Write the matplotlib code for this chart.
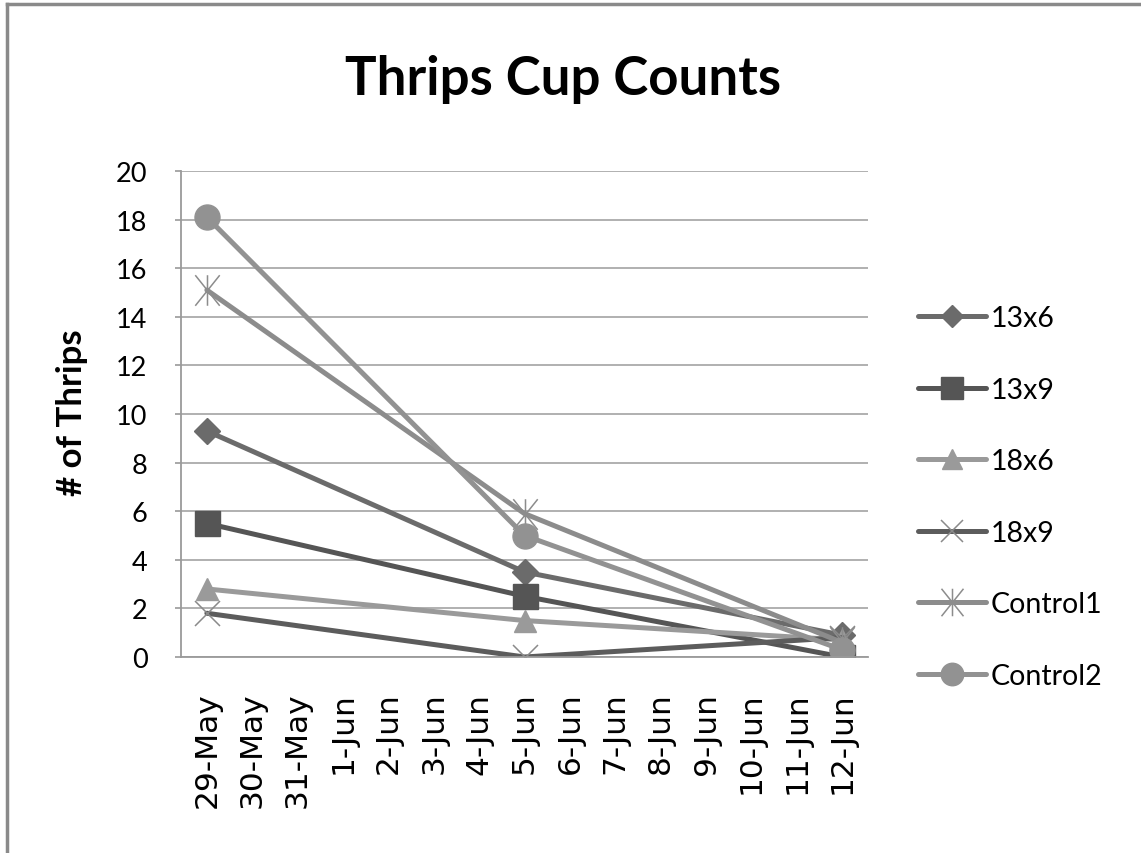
import matplotlib
matplotlib.use("Agg")
import matplotlib.pyplot as plt
from matplotlib.path import Path
from matplotlib.lines import Line2D

# ---------------------------------------------------------------------------
# Data: thrips caught per cup on three sampling dates
# ---------------------------------------------------------------------------
date_labels = ["29-May", "30-May", "31-May", "1-Jun", "2-Jun", "3-Jun", "4-Jun",
               "5-Jun", "6-Jun", "7-Jun", "8-Jun", "9-Jun", "10-Jun", "11-Jun",
               "12-Jun"]
sample_dates = ["29-May", "5-Jun", "12-Jun"]

series_names = ["13x6", "13x9", "18x6", "18x9", "Control1", "Control2"]
counts_13x6 = [9.3, 3.5, 0.9]
counts_13x9 = [5.5, 2.5, 0.0]
counts_18x6 = [2.8, 1.5, 0.7]
counts_18x9 = [1.8, 0.0, 0.8]
counts_control1 = [15.1, 5.9, 0.6]
counts_control2 = [18.1, 5.0, 0.3]

y_ticks = list(range(0, 21, 2))

# ---------------------------------------------------------------------------
# Styling
# ---------------------------------------------------------------------------
HUMANIST = ["Lato", "Liberation Sans", "DejaVu Sans"]

# asterisk marker: an X with a vertical bar through it
star_path = Path(
    [(-0.4, -0.5), (0.4, 0.5), (-0.4, 0.5), (0.4, -0.5), (0, -0.5), (0, 0.5)],
    [Path.MOVETO, Path.LINETO, Path.MOVETO, Path.LINETO, Path.MOVETO, Path.LINETO],
)

styles = {
    "13x6":     dict(color="#6b6b6b", marker="D", ms=13, mfc="#6b6b6b", mec="#6b6b6b", mew=1),
    "13x9":     dict(color="#555555", marker="s", ms=18, mfc="#555555", mec="#555555", mew=1),
    "18x6":     dict(color="#9a9a9a", marker="^", ms=16, mfc="#9a9a9a", mec="#9a9a9a", mew=1),
    "18x9":     dict(color="#5c5c5c", marker="x", ms=18, mfc="none", mec="#8a8a8a", mew=1.1),
    "Control1": dict(color="#8c8c8c", marker=star_path, ms=22, mfc="none", mec="#8c8c8c", mew=1.1),
    "Control2": dict(color="#929292", marker="o", ms=18, mfc="#929292", mec="#929292", mew=1),
}

all_counts = [counts_13x6, counts_13x9, counts_18x6, counts_18x9,
              counts_control1, counts_control2]

# ---------------------------------------------------------------------------
# Figure
# ---------------------------------------------------------------------------
fig = plt.figure(figsize=(11.41, 8.54), dpi=100, facecolor="white")
ax = fig.add_axes([181 / 1141, 1 - 658 / 854, 687 / 1141, 486 / 854])

x_pos = [date_labels.index(d) for d in sample_dates]
for name, counts in zip(series_names, all_counts):
    ax.plot(x_pos, counts, lw=3.6, solid_capstyle="round", label=name,
            **styles[name])

ax.set_xlim(-0.57, len(date_labels) - 1 + 0.57)
ax.set_ylim(0, 20)
ax.set_yticks(y_ticks)
ax.set_xticks(range(len(date_labels)))
ax.set_xticklabels(date_labels, rotation=90, family="DejaVu Sans", fontsize=22.5)
ax.set_yticklabels([str(t) for t in y_ticks], family=HUMANIST, fontsize=19.5)

ax.grid(axis="y", color="#a3a3a3", lw=1.2)
ax.set_axisbelow(True)
for side in ("top", "right"):
    ax.spines[side].set_visible(False)
for side in ("left", "bottom"):
    ax.spines[side].set_color("#9a9a9a")
    ax.spines[side].set_linewidth(1.3)
ax.tick_params(axis="y", length=4, width=1.2, color="#9a9a9a", pad=20)
ax.tick_params(axis="x", length=0, pad=25)

# titles
fig.text(563 / 1141, 1 - 95 / 854, "Thrips Cup Counts", ha="center", va="baseline",
         family=HUMANIST, fontweight="bold", fontsize=38)
fig.text(72 / 1141, 1 - 413 / 854, "# of Thrips", rotation=90, ha="center",
         va="center", family=HUMANIST, fontweight="bold", fontsize=25)

# legend
fig.legend(loc="center left", bbox_to_anchor=(918 / 1141, 1 - 498 / 854),
           frameon=False, prop={"family": HUMANIST, "size": 20.5},
           handlelength=2.4, handletextpad=0.15, labelspacing=1.6,
           borderpad=0, borderaxespad=0, markerscale=0.9)

# outer chart border (left and top edges)
fig.add_artist(Line2D([7 / 1141, 7 / 1141], [0, 1 - 5 / 854], color="#8a8a8a", lw=2.5))
fig.add_artist(Line2D([7 / 1141, 1], [1 - 5 / 854, 1 - 5 / 854], color="#8a8a8a", lw=2.5))

fig.savefig("out.png", dpi=100, facecolor="white")
